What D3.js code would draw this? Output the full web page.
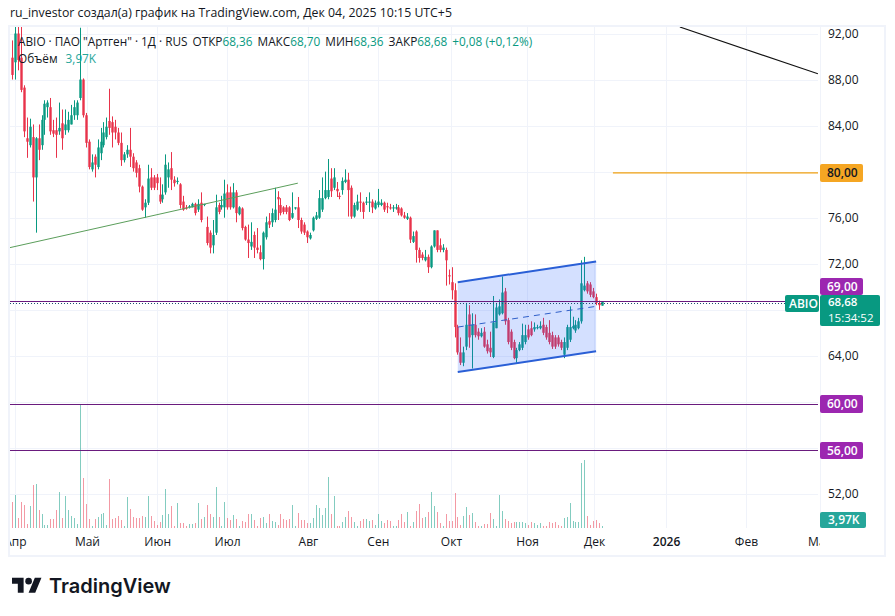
<!DOCTYPE html>
<html>
<head>
<meta charset="utf-8">
<script src="https://cdn.jsdelivr.net/npm/d3@7"></script>
<style>
  html, body { margin: 0; padding: 0; background: #fff; }
  svg { display: block; font-family: "Open Sans", sans-serif; }
</style>
</head>
<body>
<script>
// daily candles
const opens = [
  89.9,89.5,92,89.9,87.3,82.9,82.3,83,79.5,82.9,
  82.3,84.5,85.6,85.6,83.6,83.6,83.5,84.2,83.6,83.6,
  84.1,84.9,84.9,86.4,88,84.9,82.6,80.2,81.3,80.4,
  81.6,82.3,83,84.4,84.3,83.9,83.4,82.5,81,81.5,
  81.9,81.3,80.8,80.3,78.7,76.9,77.3,79.5,79.5,79.5,
  78,77.6,78.2,79.5,80.3,79.3,79.1,78.9,77.4,76.9,
  76.9,76.9,77.2,76.7,77.3,77.1,75.2,74.7,73.6,74.7,
  77.1,76.9,76.9,78.2,78.2,76.9,78.2,76.3,76.8,75.2,
  74.1,73.5,74.5,73.4,73,72.4,74.3,75.7,75.6,75.8,
  77.8,77.1,76.9,76.9,76.9,76,76.8,76.9,75.8,75.4,
  74.8,74.2,74.9,75.9,76,76.7,77.7,77.8,79.4,78.6,
  78.5,77.9,78.4,79.1,79.3,78.6,76.1,76.7,77.4,77.3,
  77.3,77.3,77.4,76.8,77.1,77.1,77.3,77,76.9,76.8,
  76.8,76.9,76.8,76.2,75.9,76,73.9,74.8,73.2,72.8,
  72.3,72.6,71.7,73.5,74.9,73.6,73.2,73.2,71,70.4,
  69.7,66.5,64.3,63.4,64.8,67.6,65.8,66.7,66.1,65.7,
  66.1,65,64.7,63.9,66.4,67.6,67.7,69.6,67.1,66.1,
  65.2,63.8,64.5,64.7,65.2,66.3,66.4,66.3,66.4,66.4,
  66.7,66.5,66,65.8,65.6,65.6,65.2,64.1,64.7,65.4,
  66.4,66.2,66.4,67,69.7,70.3,70.2,69.6,69.1,68.6,
  68.36]
const highs = [
  91.4,92.6,92.6,92.6,87.5,84.7,84.6,84.1,83,84.1,
  84.9,86.2,86.2,86.4,84.5,84.7,86,85.4,85.4,85.2,
  85.8,86.2,86.2,92.5,88.1,85.1,82.8,81.5,81.5,82.8,
  83.8,84.3,84.7,87.2,84.8,84.5,83.8,83.4,81.7,82.3,
  83.8,81.6,81,80.6,78.8,77.6,80.6,80.3,79.7,79.8,
  79.5,78.9,81.5,80.8,81.7,79.6,79.5,79,77.9,77.1,
  77.1,77.3,77.3,77.6,78.2,77.2,76.1,74.9,75.8,78,
  77.3,77.9,79.3,78.9,78.7,79,78.4,77,76.9,75.3,
  75.4,75.6,74.8,75.1,73.6,74.8,76.1,76.4,76.8,78.6,
  78.3,77.7,77,77.1,77,78.2,76.9,77.8,76,75.6,
  74.9,74.7,76.1,76.5,78.4,79.5,80,81.1,80.3,80.3,
  79.1,78.2,79.5,80.2,79.9,78.8,77.3,78,78.2,77.4,
  77.8,78.2,77.6,77.5,78.5,77.6,77.4,77.3,77.2,77.1,
  77.2,77.1,76.9,76.5,76.4,76.1,74.8,74.9,73.4,73,
  73.2,72.8,73.6,74.9,74.9,74.2,73.7,73.4,71.5,71.7,
  70.3,66.7,65.6,64.8,68.6,68.4,67.7,67.6,66.4,66.4,
  66.5,65.4,66.1,69.2,68.6,68.9,70.9,69.9,67.3,66.3,
  65.4,64.7,65.2,66.8,66.7,66.7,67,66.9,66.7,67,
  67.3,66.7,67.1,66.1,65.8,65.8,65.4,65.6,66.7,68.3,
  67.4,67.1,67.3,72.3,72.6,70.5,70.4,69.9,69.4,68.8,
  68.7]
const lows = [
  88,88,88.8,86.9,83,81.2,82.1,77.4,74.7,81,
  81.9,83.2,84.7,83.2,83,81.2,83.2,81.9,83.2,83.4,
  84.1,84.5,84.5,86.2,84.7,82.1,80.2,80,79.5,80.2,
  81,82.1,82.8,83.2,82.1,82.8,82.3,80.5,80.8,81.2,
  80.4,80,79.5,78.2,76.6,76,77.1,78.4,78.4,78.4,
  77.2,77.3,78,78.6,78.4,78.7,78.9,76.8,76.6,76.7,
  76.8,76.9,76.2,76.5,75.6,77,73.6,72.9,72.9,74.5,
  76.3,76.7,76,76.7,76.7,76.8,75.6,76.2,74.9,74,
  72.5,73.2,72.5,72.9,72.3,71.5,74.1,75.1,75.2,75.6,
  75.8,76.2,76.3,76.3,75.7,75.9,76.7,75.1,74.6,74.5,
  73.8,74.1,74.8,75.8,75.9,76.5,77.6,77.6,77.8,78.4,
  77.8,77.6,78,79,76.1,75.9,76,76.6,76.5,75.9,
  77.1,76.5,76.4,76.7,76.9,77,76.5,76.4,76.7,76.5,
  76.7,76.2,76.1,75.9,75.8,73.8,73.8,72.1,72.1,72.3,
  72.2,71.2,71.6,73.4,73,73,73,70.1,70.2,68.9,
  65.6,64.1,63.2,63.1,64.5,64.7,62.9,65.6,65.4,65.6,
  64.7,64.2,63.9,63.8,66.4,67.5,67.6,66.7,65,64.5,
  63.7,63.4,64.4,64.5,65,65.4,65.7,66.1,66.3,66.3,
  65.8,65.4,65,64.6,64.6,64.8,64.5,63.8,64.5,65.2,
  66.3,66,66.3,66.8,69.6,69.4,69.1,69,68.4,68,
  68.36]
const closes = [
  88.4,92,89.7,87.1,83.5,82.6,83.9,79.5,82.9,81.9,
  84.5,85.9,86,83.5,83.3,83.2,83.8,82.9,84.1,84.5,
  84.9,85.6,86,88,84.9,82.5,80.4,80.8,80.6,82.1,
  82.6,83.4,83.9,83.8,83.4,83.4,82.5,81,81.5,81.9,
  81.3,80.3,79.9,78.7,76.7,77.3,79.4,78.6,78.6,79,
  77.4,78,80.6,80.2,79.3,79,79.2,77.1,76.7,76.8,
  77,77.2,76.4,77.2,75.8,77.2,73.8,73.4,74.5,76.9,
  76.5,77.1,78.1,76.9,76.9,78.2,76.4,76.9,75.1,74.1,
  73.8,73.9,73.4,73.2,72.4,74.7,75.6,75.4,76.4,76.7,
  77.6,76.4,76.5,76.5,75.8,76.4,76.9,75.8,74.8,74.7,
  74.3,74.5,76,76.2,77.7,77.7,78.4,78.4,78.3,79.5,
  78.3,77.8,79.2,79.3,78.4,76.1,77.1,77.4,77.3,76.5,
  77.4,77.4,76.9,77.3,77.4,77.3,76.7,76.9,76.8,76.9,
  76.9,76.4,76.2,76,76.1,74.1,74.4,73.2,72.5,72.5,
  72.6,71.7,73.5,74.9,73.2,73.2,73.4,72.3,70.9,69.7,
  66.5,64.3,63.4,64.3,66.7,65.6,66.7,65.8,65.7,66,
  64.8,64.4,64.3,66.9,68.2,68.3,69.5,67,65.2,64.7,
  63.8,64.5,65,65.8,65.8,65.6,65.8,66.5,66.5,66.6,
  66,65.6,65.2,64.8,64.8,65,64.7,65.2,66.5,66.5,
  66.6,66.7,67,70.3,70.1,69.6,69.3,69.1,68.6,68.4,
  68.68]
// volume in thousands
const volumes = [
  52,66,20,52,46,8,44,86,88,36,
  28,6,6,18,18,36,72,20,64,36,
  24,20,8,248,100,48,18,4,18,22,
  28,30,6,98,18,20,24,16,4,62,
  38,22,20,20,24,22,64,24,14,6,
  12,26,78,28,44,4,50,10,10,4,
  8,8,10,50,18,22,46,28,22,82,
  22,4,52,20,16,26,18,4,14,12,
  28,28,16,4,20,22,10,28,14,12,
  6,28,18,16,18,46,4,30,16,16,
  10,10,20,46,40,26,40,102,28,64,
  4,4,12,22,34,22,12,4,14,18,
  18,14,16,6,28,14,10,16,14,4,
  4,16,28,12,32,4,12,34,48,20,
  22,32,72,44,32,10,4,28,14,14,
  70,22,6,24,42,26,30,12,4,4,
  8,8,30,18,4,66,34,18,14,10,
  12,12,12,12,10,6,12,10,6,10,
  4,4,12,10,12,6,4,20,22,50,
  14,12,12,130,136,24,6,14,16,10,
  3.97]

const gridPrices = [92, 88, 84, 80, 76, 72, 68, 64, 60, 56, 52]
// 80, 68, 60 and 56 sit under the tags, so they get no label of their own
const priceLabels = [92, 88, 84, 76, 72, 64, 52]
const monthLabels = ['Апр', 'Май', 'Июн', 'Июл', 'Авг', 'Сен', 'Окт', 'Ноя', 'Дек', '2026', 'Фев', 'Мар']
const monthBars = [1, 25.4, 49.2, 72.9, 100.3, 124, 148.8, 174.6, 197.3, 221.7, 248.8, 273.9]

// drawings: [bar, price] end points, the levels as they sit on the chart
const greenTrend = [[-0.7, 73.4], [96.9, 79]]
const blackTrend = [[226.4, 92.56], [273.2, 88.5]]
const orangeLevel = [203.7, 79.9]
const purpleLevels = [68.8, 59.8, 55.8]
const channelTop = [[151.1, 70.4], [198, 72.2]]
const channelMid = [[151.1, 66.5], [198, 68.3]]
const channelBottom = [[151.1, 62.6], [198, 64.4]]
const lastPrice = 68.68

const width = 895
const height = 616
const plotLeft = 10
const plotRight = 818
const plotTop = 27
const plotBottom = 528
const upColor = '#089981'
const downColor = '#e8334a'
const gridColor = '#f0f3fa'

const svg = d3.select('body').append('svg')
  .attr('width', width)
  .attr('height', height)

let x = d3.scaleLinear().domain([0, 200]).range([12, 602])
let y = d3.scaleLinear().domain([92, 52]).range([33.5, 494])
let volY = d3.scaleLinear().domain([0, 248]).range([plotBottom, 404])
const crisp = v => Math.round(v) + 0.5

svg.append('text').attr('x', 10).attr('y', 17).attr('font-size', 12.3).attr('fill', '#131722')
  .text('ru_investor создал(а) график на TradingView.com, Дек 04, 2025 10:15 UTC+5')

// frame around the chart
svg.append('rect')
  .attr('x', 9).attr('y', 26).attr('width', 876).attr('height', 530)
  .attr('fill', 'none').attr('stroke', gridColor).attr('stroke-width', 2)

const defs = svg.append('defs')
defs.append('clipPath').attr('id', 'plot').append('rect')
  .attr('x', plotLeft).attr('y', plotTop).attr('width', plotRight - plotLeft).attr('height', plotBottom - plotTop)
defs.append('clipPath').attr('id', 'timeaxis').append('rect')
  .attr('x', plotLeft).attr('y', 0).attr('width', plotRight + 2 - plotLeft).attr('height', 28)

// grid
svg.append('g').selectAll('line').data(gridPrices).join('line')
  .attr('x1', plotLeft).attr('x2', plotRight)
  .attr('y1', d => crisp(y(d))).attr('y2', d => crisp(y(d)))
  .attr('stroke', gridColor)
svg.append('g').selectAll('line').data(monthBars).join('line')
  .attr('x1', d => crisp(x(d))).attr('x2', d => crisp(x(d)))
  .attr('y1', plotTop).attr('y2', plotBottom)
  .attr('stroke', gridColor)

const plot = svg.append('g').attr('clip-path', 'url(#plot)')
const bars = d3.range(opens.length)
const barColor = i => closes[i] >= opens[i] ? upColor : downColor

// volume
plot.append('g').selectAll('rect').data(bars).join('rect')
  .attr('x', i => Math.round(x(i)))
  .attr('width', 1)
  .attr('y', i => volY(volumes[i]))
  .attr('height', i => plotBottom - volY(volumes[i]))
  .attr('fill', barColor)
  .attr('fill-opacity', 0.5)

// candles
plot.append('g').selectAll('line').data(bars).join('line')
  .attr('x1', i => Math.round(x(i)) + 0.5)
  .attr('x2', i => Math.round(x(i)) + 0.5)
  .attr('y1', i => y(highs[i]))
  .attr('y2', i => y(lows[i]))
  .attr('stroke', barColor)
plot.append('g').selectAll('rect').data(bars).join('rect')
  .attr('x', i => Math.round(x(i)) - 0.7)
  .attr('width', 2.4)
  .attr('y', i => y(Math.max(opens[i], closes[i])))
  .attr('height', i => Math.max(1, Math.abs(y(opens[i]) - y(closes[i]))))
  .attr('fill', barColor)

const line = d3.line().x(d => x(d[0])).y(d => y(d[1]))

// channel
plot.append('path')
  .attr('d', line(channelTop.concat(channelBottom.slice().reverse())) + 'Z')
  .attr('fill', '#2962ff').attr('fill-opacity', 0.2)
plot.append('path').attr('d', line(channelMid)).attr('fill', 'none')
  .attr('stroke', '#2f5fc9').attr('stroke-dasharray', '6 5')
for (const edge of [channelTop, channelBottom]) {
  plot.append('path').attr('d', line(edge)).attr('fill', 'none')
    .attr('stroke', '#2a5fd6').attr('stroke-width', 2)
}

// trend lines
plot.append('path').attr('d', line(greenTrend)).attr('fill', 'none').attr('stroke', '#5b9e5b')
plot.append('path').attr('d', line(blackTrend)).attr('fill', 'none').attr('stroke', '#111').attr('stroke-width', 1.2)

// levels
plot.append('line')
  .attr('x1', x(orangeLevel[0])).attr('x2', plotRight)
  .attr('y1', y(orangeLevel[1])).attr('y2', y(orangeLevel[1]))
  .attr('stroke', '#f0a010').attr('stroke-width', 1.3)
plot.append('g').selectAll('line').data(purpleLevels).join('line')
  .attr('x1', plotLeft).attr('x2', plotRight)
  .attr('y1', d => crisp(y(d))).attr('y2', d => crisp(y(d)))
  .attr('stroke', '#6a1b7e')
// one pixel lower so it stays clear of the 69,00 level
plot.append('line')
  .attr('x1', plotLeft).attr('x2', plotRight)
  .attr('y1', crisp(y(lastPrice)) + 1).attr('y2', crisp(y(lastPrice)) + 1)
  .attr('stroke', '#1a4f6e').attr('stroke-dasharray', '1 2')

// legend
const legend = svg.append('text').attr('x', 18).attr('y', 46).attr('font-size', 11.8).attr('fill', '#131722')
legend.append('tspan').text('ABIO · ПАО "Артген" · 1Д · RUS')
const legendValues = [['ОТКР', '68,36'], ['МАКС', '68,70'], ['МИН', '68,36'], ['ЗАКР', '68,68']]
for (const [name, value] of legendValues) {
  legend.append('tspan').attr('dx', 5).text(name)
  legend.append('tspan').attr('fill', upColor).text(value)
}
legend.append('tspan').attr('dx', 5).attr('fill', upColor).text('+0,08 (+0,12%)')
const volLegend = svg.append('text').attr('x', 18).attr('y', 63).attr('font-size', 11.8).attr('fill', '#131722')
volLegend.append('tspan').text('Объём')
volLegend.append('tspan').attr('dx', 8).attr('fill', '#26a69a').text('3,97K')

// price axis
const priceFormat = d => d.toFixed(2).replace('.', ',')
const yAxis = svg.append('g')
  .attr('transform', `translate(${plotRight},0)`)
  .call(d3.axisRight(y).tickValues(priceLabels).tickFormat(priceFormat).tickSize(0).tickPadding(10))
yAxis.select('.domain').remove()
yAxis.selectAll('text').attr('font-family', '"Open Sans", sans-serif').attr('font-size', 12).attr('fill', '#131722')

// time axis
const xAxis = svg.append('g')
  .attr('clip-path', 'url(#timeaxis)')
  .attr('transform', `translate(0,${plotBottom})`)
  .call(d3.axisBottom(x).tickValues(monthBars).tickFormat((d, i) => monthLabels[i]).tickSize(0).tickPadding(9))
xAxis.select('.domain').remove()
xAxis.selectAll('text')
  .attr('font-family', '"Open Sans", sans-serif')
  .attr('font-size', 12)
  .attr('fill', '#131722')
  .attr('font-weight', d => d === 221.7 ? 600 : 400)

// price tags on the right
function tag(tagX, tagY, w, h, fill, color, label, pad) {
  svg.append('rect').attr('x', tagX).attr('y', tagY).attr('width', w).attr('height', h).attr('rx', 2).attr('fill', fill)
  svg.append('text').attr('x', tagX + pad).attr('y', tagY + h / 2 + 4.3)
    .attr('font-size', 12).attr('font-weight', 600).attr('fill', color).text(label)
}
tag(820, 164, 43, 18, '#f5a623', '#131722', '80,00', 7)
tag(820, 278, 43, 17, '#9c27b0', '#fff', '69,00', 7)
tag(820, 395, 43, 18, '#9c27b0', '#fff', '60,00', 7)
tag(820, 442, 43, 17, '#9c27b0', '#fff', '56,00', 7)
tag(820, 512, 46, 16, '#26a69a', '#fff', '3,97K', 8)
tag(785, 295, 34, 17, upColor, '#fff', 'ABIO', 4)
svg.append('rect').attr('x', 820).attr('y', 295).attr('width', 60).attr('height', 31).attr('rx', 2).attr('fill', upColor)
svg.append('text').attr('x', 828).attr('y', 305.5).attr('font-size', 11.5).attr('font-weight', 600).attr('fill', '#fff').text('68,68')
svg.append('text').attr('x', 828).attr('y', 321.5).attr('font-size', 11.5).attr('fill', '#fff').text('15:34:52')

// TradingView logo
const logo = svg.append('g').attr('transform', 'translate(12,574.5) scale(0.83)').attr('fill', '#131722')
logo.append('path').attr('d', 'M14 22H7V11H0V4h14v18zM28 22h-8l7.5-18h8L28 22z')
logo.append('circle').attr('cx', 20).attr('cy', 8).attr('r', 4)
svg.append('text').attr('x', 49).attr('y', 593)
  .attr('font-family', 'Inter, sans-serif').attr('font-size', 20).attr('font-weight', 600)
  .attr('fill', '#131722').text('TradingView')
</script>
</body>
</html>
